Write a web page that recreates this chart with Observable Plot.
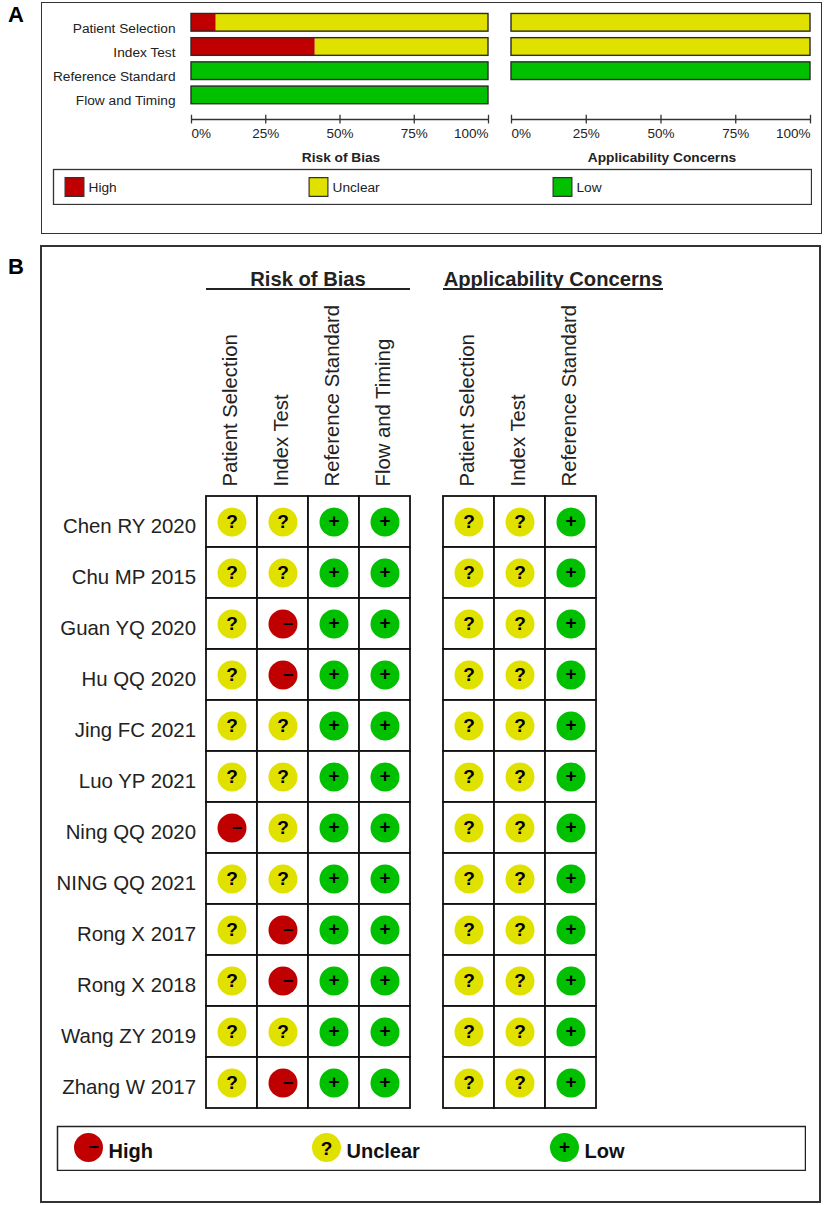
<!DOCTYPE html>
<html><head><meta charset="utf-8">
<script src="https://cdn.jsdelivr.net/npm/d3@7"></script>
<script src="https://cdn.jsdelivr.net/npm/@observablehq/plot@0.6"></script>
<style>
html,body{margin:0;padding:0;background:#fff}
#page{position:relative;width:824px;height:1205px;overflow:hidden;font-family:"Liberation Sans",Arial,sans-serif}
#page svg{position:absolute;background:transparent}
.box{position:absolute;box-sizing:border-box;background:#fff}
.tag{position:absolute;font-weight:bold;font-size:22px;line-height:23px;color:#000}
.head{position:absolute;font-size:20.2px;line-height:22px;font-weight:bold;color:#222;text-align:center;white-space:nowrap}
.rule{position:absolute;height:2px;background:#222}
</style></head><body><div id="page"></div>
<script>
const levels = ["High", "Unclear", "Low"];
const levelColors = ["#C00000", "#E1E100", "#00C000"];

const domainsA = ["Patient Selection", "Index Test", "Reference Standard", "Flow and Timing"];
const biasHigh = [8.33, 41.67, 0, 0];
const biasUnclear = [91.67, 58.33, 0, 0];
const biasLow = [0, 0, 100, 100];
const concernDomains = ["Patient Selection", "Index Test", "Reference Standard"];
const concernHigh = [0, 0, 0];
const concernUnclear = [100, 100, 0];
const concernLow = [0, 0, 100];
const pctTicks = [0, 25, 50, 75, 100];

const studies = ["Chen RY 2020", "Chu MP 2015", "Guan YQ 2020", "Hu QQ 2020", "Jing FC 2021", "Luo YP 2021",
  "Ning QQ 2020", "NING QQ 2021", "Rong X 2017", "Rong X 2018", "Wang ZY 2019", "Zhang W 2017"];
const biasColumns = ["Patient Selection", "Index Test", "Reference Standard", "Flow and Timing"];
const concernColumns = ["Patient Selection", "Index Test", "Reference Standard"];
const U = "Unclear", H = "High", L = "Low";
const patientSelection = [U,U,U,U,U,U,H,U,U,U,U,U];
const indexTest        = [U,U,H,H,U,U,U,U,H,H,U,H];
const referenceStandard= [L,L,L,L,L,L,L,L,L,L,L,L];
const flowAndTiming    = [L,L,L,L,L,L,L,L,L,L,L,L];
const concernPatient   = [U,U,U,U,U,U,U,U,U,U,U,U];
const concernIndex     = [U,U,U,U,U,U,U,U,U,U,U,U];
const concernReference = [L,L,L,L,L,L,L,L,L,L,L,L];

const font = "'Liberation Sans', Arial, sans-serif";
const page = document.getElementById("page");
const colorScale = {domain: levels, range: levelColors};
function place(el, left, top){ el.style.left = left + "px"; el.style.top = top + "px"; page.appendChild(el); return el; }
function box(l, t, w, h, b, c){ const d = document.createElement("div"); d.className = "box";
  d.style.cssText = `left:${l}px;top:${t}px;width:${w}px;height:${h}px;border:${b}px solid ${c}`; page.appendChild(d); }
function html(cls, l, t, txt, w){ const d = document.createElement("div"); d.className = cls; d.textContent = txt;
  d.style.left = l + "px"; d.style.top = t + "px"; if (w) d.style.width = w + "px"; page.appendChild(d); return d; }

box(41, 2, 781, 232, 1.5, "#333");
box(40, 245, 781, 958, 2, "#333");
html("tag", 8, 3, "A");
html("tag", 8, 255, "B");

function summary(left, width, mLeft, mRight, rows, high, unclear, low, title, withLabels){
  const table = [];
  rows.forEach((r, i) => { [high, unclear, low].forEach((arr, k) => { if (arr[i] > 0) table.push({row: r, level: levels[k], pct: arr[i]}); }); });
  const yDomain = [...domainsA, "axis"];
  const tickText = {x: d => d, y: () => "axis", text: d => d + "%", dy: 14, fontSize: 13.5, fill: "#222", fontFamily: font};
  const marks = [
    Plot.barX(table, Plot.stackX({x: "pct", y: "row", fill: "level", order: levels})),
    Plot.barX(rows, {y: d => d, x1: () => 0, x2: () => 100, stroke: "#2a2a2a", strokeWidth: 1.4, fill: "none"}),
    Plot.ruleY(["axis"], {y: d => d, x1: () => 0, x2: () => 100, stroke: "#333", strokeWidth: 1.5}),
    Plot.tickX(pctTicks, {x: d => d, y: () => "axis", stroke: "#333", strokeWidth: 1.3, insetTop: 4.5, insetBottom: 4.5}),
    Plot.text([0], {...tickText, textAnchor: "start"}),
    Plot.text([25, 50, 75], tickText),
    Plot.text([100], {...tickText, textAnchor: "end"}),
    Plot.text([title], {x: () => 50, y: () => "axis", text: d => d, dy: 38, dx: 1, fontSize: 13.7, fontWeight: "bold", fill: "#222", fontFamily: font})
  ];
  if (withLabels) marks.push(Plot.axisY({ticks: domainsA, tickSize: 0, tickPadding: 16, dy: 5.5, label: null, fontSize: 13.7, fontFamily: font, fill: "#222"}));
  const p = Plot.plot({
    width, height: 172, marginLeft: mLeft, marginRight: mRight, marginTop: 10.2, marginBottom: 40.8,
    x: {domain: [0, 100], axis: null},
    y: {type: "band", domain: yDomain, paddingInner: 0.27, paddingOuter: 0.135, round: false, axis: null},
    color: colorScale,
    marks
  });
  place(p, left, 0);
}
summary(0, 501, 191, 13, domainsA, biasHigh, biasUnclear, biasLow, "Risk of Bias", true);
summary(500, 323, 11, 13, concernDomains, concernHigh, concernUnclear, concernLow, "Applicability Concerns", false);

// Legend of panel A
place(Plot.plot({
  width: 812, height: 37, marginLeft: 53, marginRight: 1, marginTop: 1, marginBottom: 1,
  x: {type: "point", domain: levels, range: [73.5, 562.8], padding: 0, axis: null},
  color: colorScale,
  marks: [
    Plot.frame({stroke: "#333", strokeWidth: 1.3}),
    Plot.dot(levels, {x: d => d, frameAnchor: "middle", symbol: "square", r: 10.6, fill: d => d, stroke: "#333", strokeWidth: 1.2}),
    Plot.text(levels, {x: d => d, frameAnchor: "middle", text: d => d, textAnchor: "start", dx: 14, dy: 1, fontSize: 13.7, fill: "#222", fontFamily: font})
  ]
}), 0, 168);

// Panel B
html("head", 206, 268, "Risk of Bias", 204);
html("head", 443, 268, "Applicability Concerns", 220);
const r1 = html("rule", 206, 288, ""); r1.style.width = "204px";
const r2 = html("rule", 443, 288, ""); r2.style.width = "220px";

function grid(left, width, mLeft, columns, series, withLabels){
  const cells = [];
  columns.forEach((c, j) => studies.forEach((s, i) => cells.push({col: c, study: s, level: series[j][i]})));
  const marks = [
    Plot.cell(cells, {x: "col", y: "study", fill: "white", stroke: "#111", strokeWidth: 1.8}),
    Plot.dot(cells, {x: "col", y: "study", r: 14.5, fill: "level"}),
    Plot.text(cells.filter(d => d.level === "Unclear"), {x: "col", y: "study", text: () => "?", fontSize: 19, fontWeight: "bold", fill: "#000", fontFamily: font}),
    Plot.text(cells.filter(d => d.level === "Low"), {x: "col", y: "study", text: () => "+", fontSize: 19, fontWeight: "bold", dy: -1, fill: "#000", fontFamily: font}),
    Plot.text(cells.filter(d => d.level === "High"), {x: "col", y: "study", text: () => "\u2212", fontSize: 18, fontWeight: "bold", dx: 5, fill: "#000", fontFamily: font}),
    Plot.axisX({anchor: "top", tickSize: 0, tickPadding: 10, dx: -1.5, tickRotate: -90, label: null, fontSize: 20.3, fill: "#222", fontFamily: font})
  ];
  if (withLabels) marks.push(Plot.axisY({tickSize: 0, tickPadding: 10.5, dy: 4, label: null, fontSize: 20.4, fill: "#222", fontFamily: font}));
  place(Plot.plot({
    width, height: 826, marginLeft: mLeft, marginRight: 2, marginTop: 206, marginBottom: 8,
    x: {type: "band", domain: columns, padding: 0, axis: null},
    y: {type: "band", domain: studies, padding: 0, axis: null},
    color: colorScale,
    marks
  }), left, 290);
}
grid(0, 412, 206, biasColumns, [patientSelection, indexTest, referenceStandard, flowAndTiming], true);
grid(433, 165, 10, concernColumns, [concernPatient, concernIndex, concernReference], false);

// Legend of panel B
const glyph = (level, text, dx, dy, fontSize) => Plot.text([level], {x: d => d, frameAnchor: "middle", text: () => text, dx, dy, fontSize, fontWeight: "bold", fill: "#000", fontFamily: font});
place(Plot.plot({
  width: 806, height: 46, marginLeft: 57, marginRight: 1, marginTop: 1, marginBottom: 1,
  x: {type: "point", domain: levels, range: [88, 564.5], padding: 0, axis: null},
  color: colorScale,
  marks: [
    Plot.frame({stroke: "#222", strokeWidth: 1.5}),
    Plot.dot(levels, {x: d => d, frameAnchor: "middle", dy: -1, r: 14.5, fill: d => d}),
    glyph("High", "\u2212", 5, -1, 18),
    glyph("Unclear", "?", 0, 0, 19),
    glyph("Low", "+", 0, -2, 19),
    Plot.text(levels, {x: d => d, frameAnchor: "middle", text: d => d, textAnchor: "start", dx: 20, dy: 3, fontSize: 20, fontWeight: "bold", fill: "#111", fontFamily: font})
  ]
}), 0, 1125);
</script></body></html>
